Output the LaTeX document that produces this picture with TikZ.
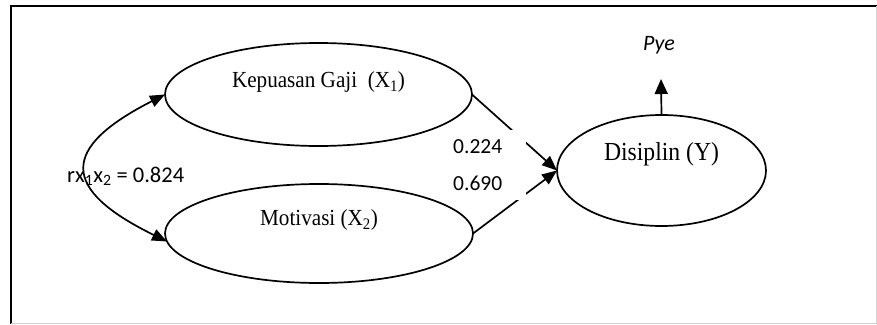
\documentclass[tikz,border=0pt]{standalone}
\usepackage{fontspec}
\setmainfont{Liberation Serif}
\newfontfamily\calibrifont{Carlito}
\usetikzlibrary{shapes.geometric,arrows.meta}
% narrow serif lettering used inside the ellipses
\newcommand{\narrowtext}[2]{\scalebox{#1}[1]{#2}}
\begin{document}
\begin{tikzpicture}[x=1pt,y=-1pt,
  frameline/.style={line width=1.8pt},
  latent/.style={ellipse,draw,line width=1.7pt,outer sep=0pt,inner sep=0pt},
  tip/.style={Triangle[length=15pt,width=12pt]},
  path/.style={line width=1.7pt,-{Triangle[length=15pt,width=12pt]}},
  corr/.style={line width=1.7pt,{Triangle[length=15pt,width=12pt]}-{Triangle[length=15pt,width=12pt]}},
  coef/.style={fill=white,anchor=west,text width=70pt,align=left,inner xsep=3pt,
               minimum height=34pt,font=\calibrifont\fontsize{21.5}{25}\selectfont},
  serifbig/.style={font=\fontsize{23}{27}\selectfont}
]
\useasboundingbox (0,0) rectangle (877,324);

% frame
\draw[frameline] (11,324) -- (11,6) -- (877,6);
\draw[gray!35,line width=0.8pt] (11,323) -- (876,323) -- (876,6);

% latent variables
\node[latent,minimum width=307pt,minimum height=103pt,
      label={[serifbig,yshift=12.5pt]center:\narrowtext{0.92}{Kepuasan Gaji\ \ (X\textsubscript{1})}}]
  (k) at (318.5,94.5) {};
\node[latent,minimum width=308pt,minimum height=99pt,
      label={[serifbig,yshift=13.5pt]center:\narrowtext{0.92}{Motivasi (X\textsubscript{2})}}]
  (m) at (319,233.5) {};
\node[latent,minimum width=209pt,minimum height=111pt,
      label={[font=\fontsize{26}{30}\selectfont,yshift=16.5pt]center:\narrowtext{0.91}{Disiplin (Y)}}]
  (d) at (661.5,170.5) {};

% paths into Disiplin
\draw[path] (k.east) -- (d.west);
\draw[path] (m.east) -- (d.west);

% path coefficients
\node[coef] (c1) at (450,147) {0.224};
\node[coef] (c2) at (450,183) {0.690};

% residual
\coordinate (pyetip) at (661,79);
\draw[line width=1.7pt,-{Triangle[length=15pt,width=13pt]}] (d.north) -- (pyetip);
\node[font=\calibrifont\itshape\fontsize{22}{26}\selectfont] (pye) at (659,45) {Pye};

% correlation between X1 and X2
\draw[corr] (k.west) .. controls (60,148) and (60,189) .. (m.183);
\node[font=\calibrifont\fontsize{22.5}{26}\selectfont,anchor=west,inner sep=0pt] (r)
  at (67,176) {rx\textsubscript{1}x\textsubscript{2} = 0.824};
\end{tikzpicture}
\end{document}
